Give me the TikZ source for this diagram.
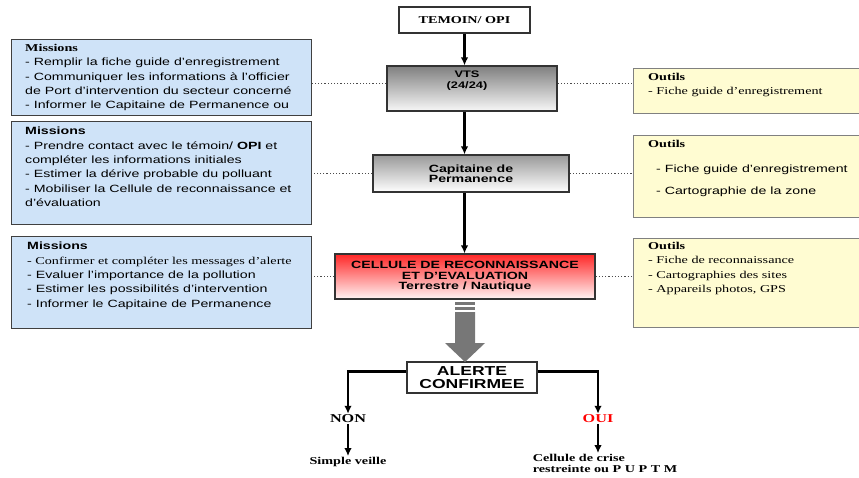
\documentclass[tikz,border=0pt]{standalone}
\usepackage{fontspec}
\setmainfont[FakeStretch=1.35]{Liberation Serif}
\setsansfont[FakeStretch=1.35]{Liberation Sans}
\usetikzlibrary{arrows.meta, positioning}

\definecolor{missionblue}{HTML}{CFE3F8}
\definecolor{toolyellow}{HTML}{FFFCD2}
\definecolor{arrowgray}{HTML}{777777}

\begin{document}
\begin{tikzpicture}[
    x=1pt, y=-1pt,
    stage/.style={rectangle, draw=black!80, line width=1.2pt, align=center, inner sep=0pt, font=\sffamily\bfseries\fontsize{10.5}{10.5}\selectfont},
    missionbox/.style={rectangle, draw=black!75, line width=1.2pt, fill=missionblue, anchor=north west, minimum width=300pt},
    toolbox/.style={rectangle, draw=black!50, line width=1.2pt, fill=toolyellow, anchor=north west, minimum width=240pt},
    txt/.style={inner sep=0pt, align=left, font=\sffamily\fontsize{10.5}{14.3}\selectfont},
    lbl/.style={inner sep=1pt, align=left, font=\rmfamily\bfseries\fontsize{10.5}{11}\selectfont},
    arr/.style={-{Latex[length=8pt, width=7.5pt]}, line width=2.2pt},
    dotlink/.style={dotted, line width=1.2pt, black!70},
]
\useasboundingbox (0,0) rectangle (859,477);

% central chain
\node[stage, minimum width=131pt, minimum height=26pt, font=\rmfamily\bfseries\fontsize{10.5}{11}\selectfont] (temoin) at (464.5,20) {TEMOIN/ OPI};
\node[stage, minimum width=170pt, minimum height=45pt, top color=black!50, bottom color=black!3] (vts) at (472,88.5) {};
\node[inner sep=0pt, align=center, font=\sffamily\bfseries\fontsize{9.5}{11}\selectfont] (vtstext) at (467,81) {VTS\\(24/24)};
\node[stage, minimum width=196pt, minimum height=37pt, top color=black!40, bottom color=white] (cap) at (471,173.5) {Capitaine de\\Permanence};
\node[stage, minimum width=260pt, minimum height=45pt, top color=red!85, bottom color=red!4] (cell) at (465,276.5) {CELLULE DE RECONNAISSANCE\\ET D’EVALUATION\\Terrestre / Nautique};
\node[stage, minimum width=130pt, minimum height=31pt, font=\sffamily\bfseries\fontsize{13}{13}\selectfont] (alert) at (472,377.5) {ALERTE\\CONFIRMEE};

\draw[arr] (temoin.south) -- (temoin.south |- vts.north);
\draw[arr] (temoin.south |- vts.south) -- (temoin.south |- cap.north);
\draw[arr] (temoin.south |- cap.south) -- (temoin.south |- cell.north);

% big gray arrow
\fill[arrowgray] (455,302) rectangle (475,305);
\fill[arrowgray] (455,307) rectangle (475,310);
\fill[arrowgray] (455,312) -- (475,312) -- (475,343) -- (485,343) -- (465,362) -- (445,343) -- (455,343) -- cycle;

% outcome
\node[lbl, font=\rmfamily\bfseries\fontsize{12}{12}\selectfont] (non) at (348,419) {NON};
\node[lbl, font=\rmfamily\bfseries\fontsize{12}{12}\selectfont, text=red] (oui) at (598,419) {OUI};
\node[lbl] (veille) at (348,462) {Simple veille};
\node[lbl] (crise) at (605,463.5) {Cellule de crise\\restreinte ou P U P T M};

\coordinate (alertl) at ([yshift=6pt]alert.west);
\coordinate (alertr) at ([yshift=6pt]alert.east);
\draw[arr] (alertl) -| (non.north);
\draw[arr] (alertr) -| (oui.north);
\draw[arr] (non.south) -- (veille.north);
\draw[arr] (oui.south) -- (oui.south |- crise.north);

% missions
\node[missionbox, minimum height=76pt] (m1) at (11,39) {};
\node[txt, below right=5pt and 14pt of m1.north west] (m1text) {{\rmfamily\bfseries Missions}\\- Remplir la fiche guide d’enregistrement\\- Communiquer les informations à l’officier\\de Port d’intervention du secteur concerné\\- Informer le Capitaine de Permanence ou};
\node[missionbox, minimum height=103pt] (m2) at (11,121) {};
\node[txt, below right=6pt and 14pt of m2.north west] (m2text) {\textbf{Missions}\\- Prendre contact avec le témoin/ \textbf{OPI} et\\compléter les informations initiales\\- Estimer la dérive probable du polluant\\- Mobiliser la Cellule de reconnaissance et\\d’évaluation};
\node[missionbox, minimum height=92pt] (m3) at (11,236) {};
\node[txt, below right=6pt and 16pt of m3.north west] (m3text) {\textbf{Missions}\\{\rmfamily - Confirmer et compléter les messages d’alerte}\\- Evaluer l’importance de la pollution\\- Estimer les possibilités d’intervention\\- Informer le Capitaine de Permanence};

% outils
\node[toolbox, minimum height=45pt] (o1) at (633,68) {};
\node[txt, font=\rmfamily\fontsize{10.5}{14.3}\selectfont, below right=5pt and 15pt of o1.north west] (o1text) {\textbf{Outils}\\- Fiche guide d’enregistrement};
\node[toolbox, minimum height=82pt] (o2) at (633,135) {};
\node[txt, below right=5pt and 15pt of o2.north west] (o2text) {{\rmfamily\bfseries Outils}\\[11pt]\hspace*{8pt}- Fiche guide d’enregistrement\\[7pt]\hspace*{8pt}- Cartographie de la zone};
\node[toolbox, minimum height=89pt] (o3) at (633,238) {};
\node[txt, font=\rmfamily\fontsize{10.5}{14.3}\selectfont, below right=4pt and 15pt of o3.north west] (o3text) {\textbf{Outils}\\- Fiche de reconnaissance\\- Cartographies des sites\\- Appareils photos, GPS};

% dotted links
\coordinate (vtsl) at ([yshift=5pt]vts.west);
\coordinate (vtsr) at ([yshift=5pt]vts.east);
\draw[dotlink] (vtsl) -- (vtsl -| m1.east);
\draw[dotlink] (vtsr) -- (vtsr -| o1.west);
\draw[dotlink] (cap.west) -- (cap.west -| m2.east);
\draw[dotlink] (cap.east) -- (cap.east -| o2.west);
\draw[dotlink] (cell.west) -- (cell.west -| m3.east);
\draw[dotlink] (cell.east) -- (cell.east -| o3.west);
\end{tikzpicture}
\end{document}
